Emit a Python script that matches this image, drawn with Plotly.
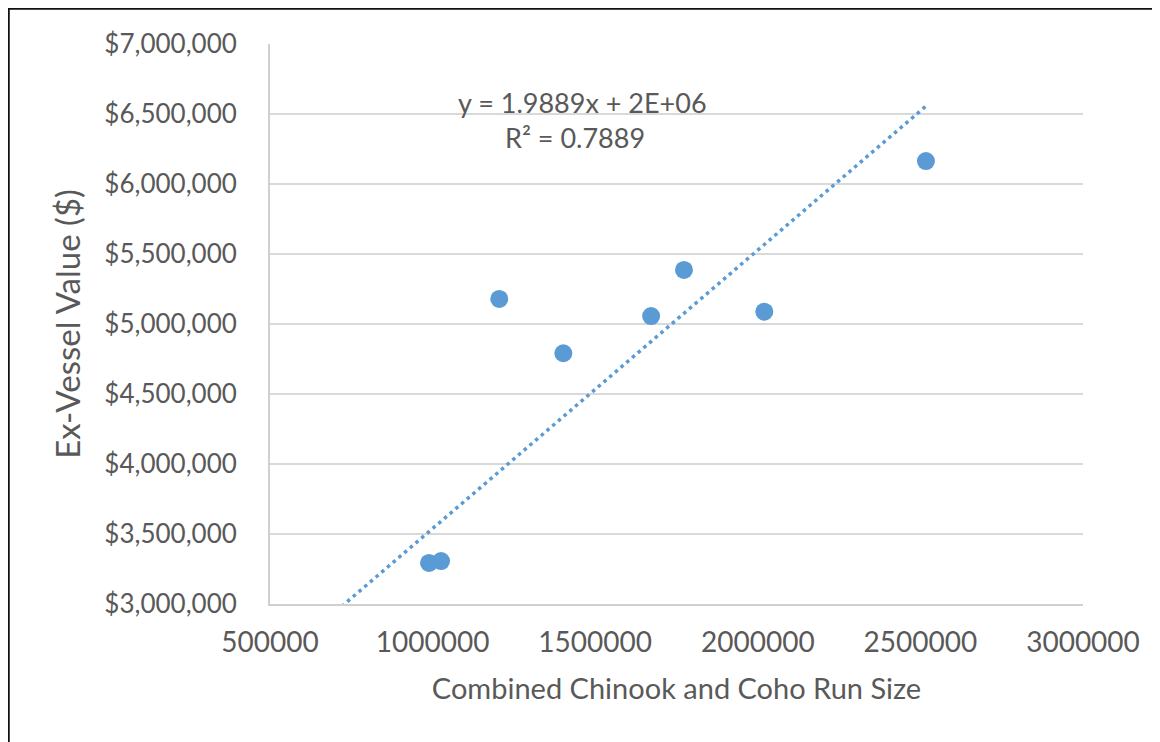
import plotly.graph_objects as go

# Data
run_size = [989000, 1026000, 1205000, 1402000, 1672000, 1773000, 2020000, 2517000]
ex_vessel_value = [3293000, 3307000, 5179000, 4791000, 5057000, 5386000, 5088000, 6164000]

# Linear trendline as labelled on the chart
trend_slope = 1.9889
trend_intercept = 1550000
trend_x = [650000, 2517000]
trend_y = [trend_slope * v + trend_intercept for v in trend_x]

x_ticks = [500000, 1000000, 1500000, 2000000, 2500000, 3000000]
x_labels = [str(v) for v in x_ticks]
y_ticks = [3000000, 3500000, 4000000, 4500000, 5000000, 5500000, 6000000, 6500000, 7000000]
y_labels = ["${:,}".format(v) for v in y_ticks]

FONT = "Lato"
GRAY = "#595959"
BLUE = "#5b9bd5"

fig = go.Figure()
fig.add_trace(go.Scatter(
    x=trend_x, y=trend_y, mode="lines",
    line=dict(color=BLUE, width=3.5, dash="3.5px,4px"),
    hoverinfo="skip", showlegend=False,
))
fig.add_trace(go.Scatter(
    x=run_size, y=ex_vessel_value, mode="markers",
    marker=dict(color=BLUE, size=18, line=dict(width=0)),
    showlegend=False, cliponaxis=False,
))

# page body has an 8px offset; screen plot area is x 270..1083, y 44..604
OFF = 8
W, H = 1160, 742
SL, ST, SR, SB = 270, 44, 1083, 604
L, T = SL - OFF, ST - OFF
R = W - (SR - OFF)
B = H - (SB - OFF)
pw, ph = SR - SL, SB - ST


def px(sx):
    return (sx - SL) / pw


def py(sy):
    return 1 - (sy - ST) / ph


fig.update_layout(
    width=W, height=H,
    margin=dict(l=L, r=R, t=T, b=B, pad=0),
    paper_bgcolor="white", plot_bgcolor="white",
    font=dict(family=FONT, color=GRAY, size=26),
    xaxis=dict(
        range=[500000, 3000000], tickvals=x_ticks, ticktext=x_labels,
        showgrid=False, zeroline=False,
        showline=True, linecolor="#d0d0d0", linewidth=2,
        ticks="", ticklabelstandoff=12,
        tickfont=dict(size=28, color=GRAY),
        title=dict(text="Combined Chinook and Coho Run Size", font=dict(size=29, color=GRAY), standoff=22),
    ),
    yaxis=dict(
        range=[3000000, 7000000], tickvals=y_ticks, ticktext=y_labels,
        showgrid=True, gridcolor="#d9d9d9", gridwidth=2,
        zeroline=False,
        showline=True, linecolor="#d0d0d0", linewidth=2,
        ticks="", ticklabelstandoff=26,
        tickfont=dict(size=26, color=GRAY),
        title=dict(text="Ex-Vessel Value ($)", font=dict(size=33, color=GRAY), standoff=14),
    ),
    annotations=[
        dict(text="y = 1.9889x + 2E+06", xref="paper", yref="paper",
             x=px(582), y=py(103), showarrow=False,
             xanchor="center", yanchor="middle", font=dict(size=27, color=GRAY)),
        dict(text="R² = 0.7889", xref="paper", yref="paper",
             x=px(575), y=py(138), showarrow=False,
             xanchor="center", yanchor="middle", font=dict(size=27, color=GRAY)),
    ],
    shapes=[
        dict(type="rect", xref="paper", yref="paper",
             x0=px(8), x1=px(W + 20), y0=py(H + 20), y1=py(8),
             line=dict(color="#111111", width=3.5), layer="above"),
    ],
)

fig.write_html("out.html")
